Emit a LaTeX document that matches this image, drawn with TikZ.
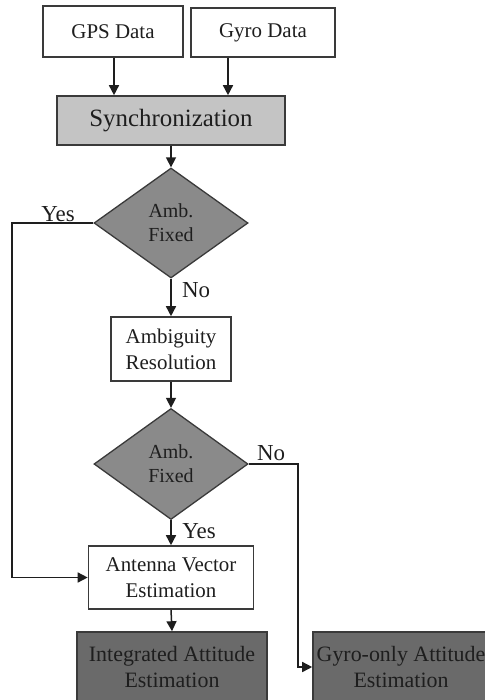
\documentclass[tikz,border=0pt]{standalone}
\usepackage{fontspec}
\setmainfont{Liberation Serif}
\usetikzlibrary{shapes.geometric,arrows.meta}
\definecolor{edge}{HTML}{3A3A3A}
\definecolor{syncfill}{HTML}{C4C4C4}
\definecolor{decfill}{HTML}{8A8A8A}
\definecolor{endfill}{HTML}{6A6A6A}
\definecolor{txt}{HTML}{1E1E1E}
\tikzset{
  box/.style={draw=edge, line width=1.6bp, fill=white, inner sep=0pt, align=center, text=txt, font=\fontsize{21}{26}\selectfont},
  decision/.style={diamond, draw=edge, line width=1.3bp, fill=decfill, inner sep=0pt, aspect=1.4, align=center, text=txt, font=\fontsize{20}{24}\selectfont},
  lbl/.style={text=txt, font=\fontsize{23}{26}\selectfont, inner sep=0pt},
  arr/.style={draw=txt, line width=1.5bp, -{Triangle[length=10bp,width=10bp]}},
  ln/.style={draw=edge, line width=1.5bp},
}
\begin{document}
\begin{tikzpicture}[x=1bp,y=-1bp]
\useasboundingbox (0,0) rectangle (485,700);
\node[box, minimum width=140bp, minimum height=51bp] (gps) at (113,31.5) {GPS Data};
\node[box, minimum width=144bp, minimum height=49bp] (gyro) at (263,32.5) {Gyro Data};
\node[box, fill=syncfill, minimum width=228bp, minimum height=49bp, font=\fontsize{25}{28}\selectfont] (sync) at (171,120.5) {Synchronization};
\node[decision, minimum width=154bp, minimum height=110bp] (d1) at (171,223) {Amb.\\Fixed};
\node[box, minimum width=120bp, minimum height=64bp] (amb) at (171,349) {Ambiguity\\Resolution};
\node[decision, minimum width=154bp, minimum height=111bp] (d2) at (171,464) {Amb.\\Fixed};
\node[box, minimum width=165bp, minimum height=63bp] (ant) at (171,577.5) {Antenna Vector\\Estimation};
\node[box, fill=endfill, minimum width=190bp, minimum height=70bp, font=\fontsize{22}{26}\selectfont] (integ) at (172,667) {Integrated Attitude\\Estimation};
\node[box, fill=endfill, minimum width=176bp, minimum height=70bp, font=\fontsize{22}{26}\selectfont] (gonly) at (401,667) {Gyro-only Attitude\\Estimation};
\coordinate (g1) at (114,0);
\coordinate (g2) at (228,0);
\coordinate (left) at (12,0);
\coordinate (right) at (298,0);
\draw[arr] (g1 |- gps.south) -- (g1 |- sync.north);
\draw[arr] (g2 |- gyro.south) -- (g2 |- sync.north);
\draw[arr] (sync.south) -- (d1.north);
\draw[arr] (d1.south) -- (amb.north);
\draw[arr] (amb.south) -- (d2.north);
\draw[arr] (d2.south) -- (ant.north);
\draw[arr] (ant.south) -- (integ.north);
\draw[arr] (d1.west) -- (left |- d1.west) -- (left |- ant.west) -- (ant.west);
\draw[arr] (d2.east) -- (right |- d2.east) -- (right |- gonly.west) -- (gonly.west);
\node[lbl] (yes1) at (58,214) {Yes};
\node[lbl] (no1) at (196,290) {No};
\node[lbl] (no2) at (271,453) {No};
\node[lbl] (yes2) at (199,531) {Yes};
\end{tikzpicture}
\end{document}
